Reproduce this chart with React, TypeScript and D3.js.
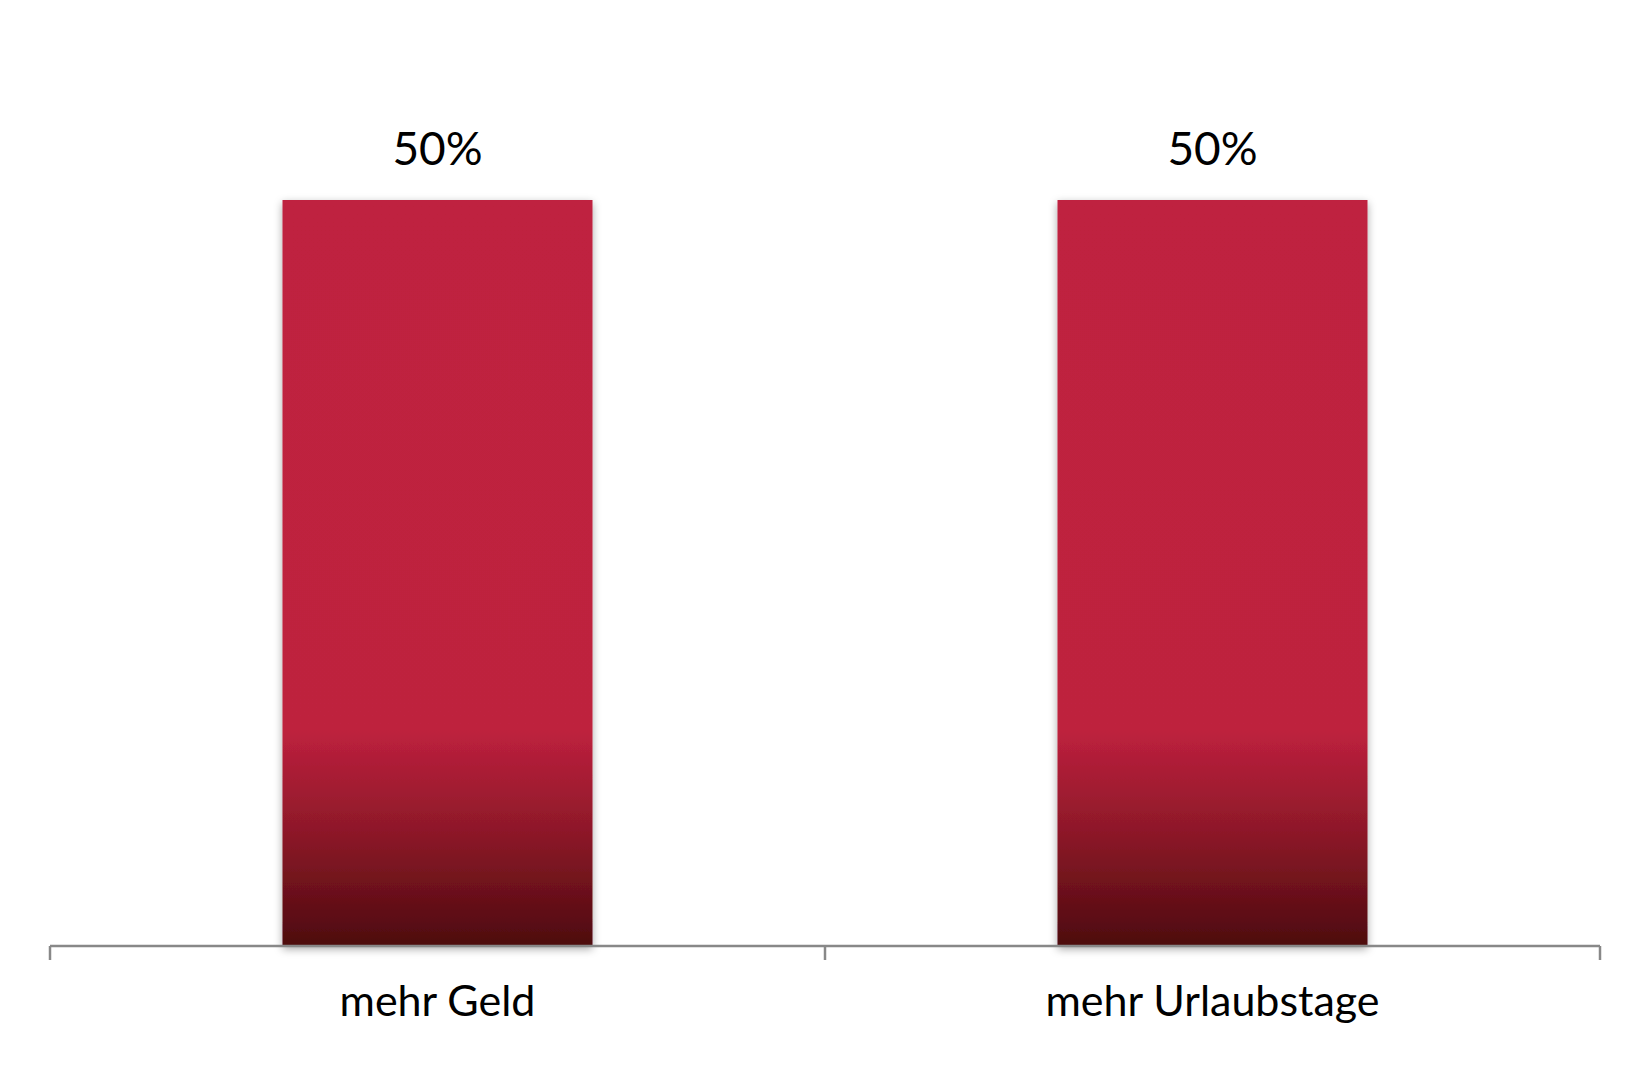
import React from "react";
import * as d3 from "d3";

const categories = ["mehr Geld", "mehr Urlaubstage"];
const values = [50, 50];
const valueLabels = ["50%", "50%"];

const W = 1650;
const H = 1067;
const axisY = 946;
const axisLeft = 50;
const axisRight = 1600;

export default function App() {
  const x = d3.scaleBand<string>().domain(categories).range([axisLeft, axisRight]).padding(0);
  const y = d3.scaleLinear().domain([0, 60]).range([axisY, axisY - 746 * 1.2]);
  const barW = x.bandwidth() * 0.4;
  const tickXs = [axisLeft, ...categories.map((c) => (x(c) as number) + x.bandwidth())];

  return (
    <svg width={W} height={H} style={{ position: "absolute", left: 0, top: 0 }} fontFamily="Lato, 'Noto Sans', sans-serif">
      <defs>
        <linearGradient id="barGrad" x1="0" y1="0" x2="0" y2="1">
          <stop offset="0" stopColor="#BF213F" />
          <stop offset="0.71" stopColor="#BE213E" />
          <stop offset="0.85" stopColor="#8C1828" />
          <stop offset="1" stopColor="#4D0A0E" />
        </linearGradient>
        <filter id="shadow" x="-10%" y="-5%" width="120%" height="110%">
          <feDropShadow dx="0" dy="3" stdDeviation="4" floodColor="#000" floodOpacity="0.35" />
        </filter>
      </defs>
      <rect x={0} y={0} width={W} height={H} fill="#fff" />
      {categories.map((c, i) => {
        const cx = (x(c) as number) + x.bandwidth() / 2;
        const top = y(values[i]);
        return (
          <g key={c}>
            <rect
              x={cx - barW / 2}
              y={top}
              width={barW}
              height={axisY - top}
              fill="url(#barGrad)"
              filter="url(#shadow)"
            />
            <text x={cx} y={top - 35} textAnchor="middle" fontSize={46} fill="#000">
              {valueLabels[i]}
            </text>
            <text x={cx} y={1016} textAnchor="middle" fontSize={43} fill="#000">
              {c}
            </text>
          </g>
        );
      })}
      <line x1={axisLeft} x2={axisRight} y1={axisY} y2={axisY} stroke="#888" strokeWidth={2.5} />
      {tickXs.map((tx, i) => (
        <line key={i} x1={tx} x2={tx} y1={axisY} y2={axisY + 14} stroke="#888" strokeWidth={2.5} />
      ))}
    </svg>
  );
}
